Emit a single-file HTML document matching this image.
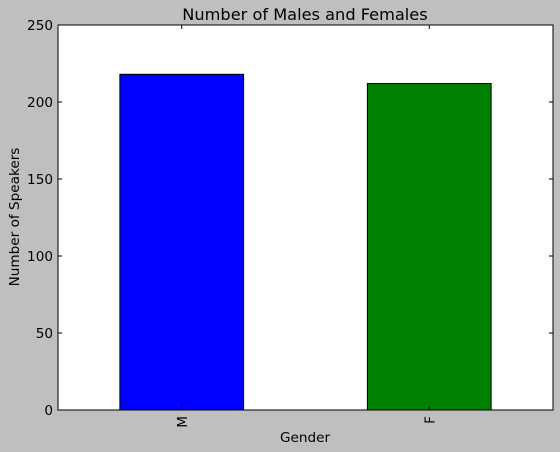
<!DOCTYPE html>
<html>
<head>
<meta charset="utf-8">
<style>
html,body{margin:0;padding:0;background:#bfbfbf;}
svg{display:block;font-family:"DejaVu Sans","Liberation Sans",sans-serif;}
</style>
</head>
<body>
<svg id="chart" width="560" height="452">
  <rect x="0" y="0" width="560" height="452" fill="#bfbfbf"/>
  <rect x="58" y="25" width="495" height="385" fill="#ffffff"/>
  <g id="bars"></g>
  <g id="yticks"></g>
  <g id="xticks"></g>
  <rect x="58" y="25" width="495" height="385" fill="none" stroke="#000" stroke-width="1"/>
  <text x="305" y="20" text-anchor="middle" font-size="16.2">Number of Males and Females</text>
  <text x="305" y="442" text-anchor="middle" font-size="13.6">Gender</text>
  <text x="19" y="217" text-anchor="middle" font-size="13.6" transform="rotate(-90 19 217)">Number of Speakers</text>
</svg>
<script>
const categories = ["M", "F"];
const counts = [218, 212];
const colors = ["#0000ff", "#008000"];
const yTickValues = [0, 50, 100, 150, 200, 250];

const NS = "http://www.w3.org/2000/svg";
const plotL = 58, plotR = 553, plotT = 25, plotB = 410;
const yMax = 250;
function yScale(v){ return plotB - v / yMax * (plotB - plotT); }
function xScale(i){ return plotL + (i + 0.5) / categories.length * (plotR - plotL); }
const bandW = (plotR - plotL) / categories.length * 0.5;

const barsG = document.getElementById("bars");
categories.forEach((c, i) => {
  const r = document.createElementNS(NS, "rect");
  const y = yScale(counts[i]);
  r.setAttribute("x", xScale(i) - bandW / 2);
  r.setAttribute("y", y);
  r.setAttribute("width", bandW);
  r.setAttribute("height", plotB - y);
  r.setAttribute("fill", colors[i]);
  r.setAttribute("stroke", "#000");
  r.setAttribute("stroke-width", "1");
  
  
  barsG.appendChild(r);
});

const yG = document.getElementById("yticks");
yTickValues.forEach(v => {
  const y = yScale(v);
  [[plotL, plotL + 4], [plotR, plotR - 4]].forEach(([a, b]) => {
    const l = document.createElementNS(NS, "line");
    l.setAttribute("x1", a); l.setAttribute("x2", b);
    l.setAttribute("y1", y); l.setAttribute("y2", y);
    l.setAttribute("stroke", "#000");
    
    
    yG.appendChild(l);
  });
  const t = document.createElementNS(NS, "text");
  t.setAttribute("x", plotL - 5);
  t.setAttribute("y", y + 5);
  t.setAttribute("text-anchor", "end");
  t.setAttribute("font-size", "13.6");
  t.textContent = v;
  
  
  yG.appendChild(t);
});

const xG = document.getElementById("xticks");
categories.forEach((c, i) => {
  const x = xScale(i);
  [[plotB, plotB - 4], [plotT, plotT + 4]].forEach(([a, b]) => {
    const l = document.createElementNS(NS, "line");
    l.setAttribute("x1", x); l.setAttribute("x2", x);
    l.setAttribute("y1", a); l.setAttribute("y2", b);
    l.setAttribute("stroke", "#000");
    
    
    xG.appendChild(l);
  });
  const t = document.createElementNS(NS, "text");
  const tx = x + 5, ty = plotB + 6;
  t.setAttribute("x", tx);
  t.setAttribute("y", ty);
  t.setAttribute("text-anchor", "end");
  t.setAttribute("font-size", "13.6");
  t.setAttribute("transform", "rotate(-90 " + tx + " " + ty + ")");
  t.textContent = c;
  
  
  xG.appendChild(t);
});
</script>
</body>
</html>
